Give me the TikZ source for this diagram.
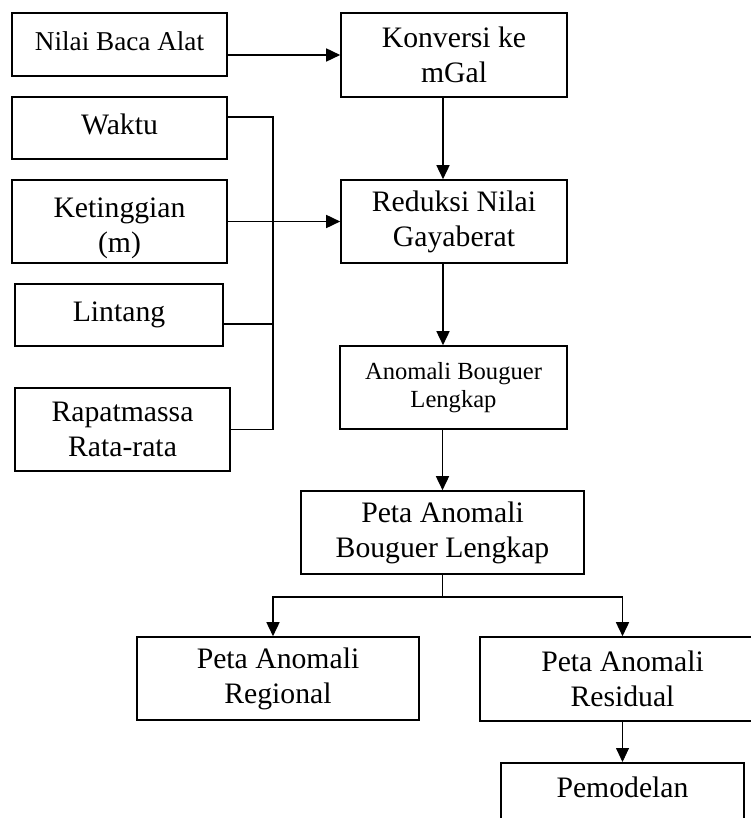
\documentclass[tikz,border=0pt]{standalone}
\usepackage{fontspec}
\setmainfont{Liberation Serif}
\usetikzlibrary{arrows.meta}

\begin{document}
\begin{tikzpicture}[x=0.5pt,y=-0.5pt,line width=0.8pt,
        >={Triangle[length=7pt,width=6.5pt]},
        box/.style={draw,align=center,inner sep=0pt,font=\fontsize{14.85}{17.5}\selectfont}]
            \useasboundingbox (0,0) rectangle (750,818);
            % masukan
            \node (nilai) at (119.5,44.5) [box,minimum width=107.5pt,minimum height=31.5pt,font=\fontsize{13.6}{16}\selectfont] {Nilai Baca Alat\rule[-3pt]{0pt}{0pt}};
            \node (waktu) at (119.5,128) [box,minimum width=107.5pt,minimum height=31pt] {Waktu\rule[-4pt]{0pt}{0pt}};
            \node (tinggi) at (119.5,221.5) [box,minimum width=107.5pt,minimum height=41.5pt] {\rule{0pt}{17pt}Ketinggian\\(m)};
            \node (lintang) at (119,315) [box,minimum width=104pt,minimum height=31pt] {Lintang};
            \node (rapat) at (122.5,429.5) [box,minimum width=107.5pt,minimum height=41.5pt] {Rapatmassa\\Rata-rata};
            % proses
            \node (konversi) at (454,55) [box,minimum width=113pt,minimum height=42pt] {Konversi ke\\mGal};
            \node (reduksi) at (454,221.5) [box,minimum width=113pt,minimum height=41.5pt] {Reduksi Nilai\\Gayaberat};
            \node (bouguer) at (453.5,387.5) [box,minimum width=113.5pt,minimum height=41.5pt,font=\fontsize{12.3}{14.2}\selectfont] {Anomali Bouguer\\Lengkap};
            \node (peta) at (442.5,532.5) [box,minimum width=141.5pt,minimum height=41.5pt] {Peta Anomali\\Bouguer Lengkap};
            \node (regional) at (278,678.5) [box,minimum width=141pt,minimum height=41.5pt] {Peta Anomali\\Regional};
            \node (residual) at (622.5,679) [box,minimum width=142.5pt,minimum height=42pt] {Peta Anomali\\Residual};
            \node (pemodelan) at (622.5,762) [box,anchor=north,minimum width=121.5pt,text height=17.5pt,text depth=20pt] {Pemodelan};
            \coordinate (bus) at (273,221.5);
            % garis
            \draw [->] (nilai.east |- konversi) -- (konversi);
            \draw [->] (tinggi) -- (reduksi);
            \draw ([yshift=5.5pt]waktu.east) -| (bus) |- (rapat.east);
            \draw ([yshift=-4.5pt]lintang.east) -| (bus);
            \draw [->] ([xshift=-5.5pt]konversi.south) -- ([xshift=-5.5pt]reduksi.north);
            \draw [->] ([xshift=-5.5pt]reduksi.south) -- ([xshift=-5.5pt]reduksi.south |- bouguer.north);
            \draw [->] ([xshift=-5.5pt]bouguer.south) -- (peta);
            \draw [->] (peta.south) -- ++(0,22) -| ([xshift=-2.5pt]regional.north);
            \draw [->] (peta.south) -- ++(0,22) -| (residual.north);
            \draw [->,line width=0.4pt] (residual) -- (pemodelan);
        \end{tikzpicture}
\end{document}
